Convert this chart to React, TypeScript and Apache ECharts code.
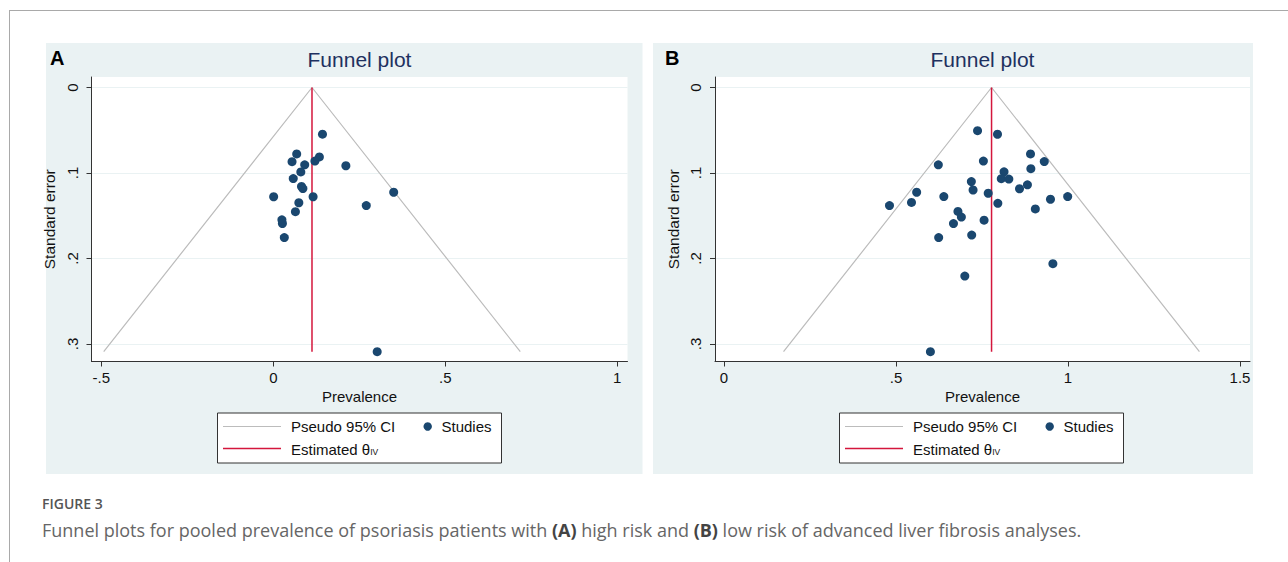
import React, { useEffect, useRef } from "react";
import * as echarts from "echarts";

// ---------- data ----------
const studiesA: [number, number][] = [
  [0.143, 0.0546], [0.068, 0.0777], [0.134, 0.0812], [0.0545, 0.0868], [0.121, 0.086],
  [0.0913, 0.0904], [0.211, 0.0915], [0.08, 0.0988], [0.058, 0.1065], [0.082, 0.1157],
  [0.086, 0.1182], [0.001, 0.1278], [0.1157, 0.1278], [0.35, 0.1225], [0.0742, 0.1348],
  [0.2703, 0.1381], [0.0643, 0.1452], [0.025, 0.1548], [0.0265, 0.1591], [0.032, 0.1755],
  [0.302, 0.309],
];
const studiesB: [number, number][] = [
  [0.737, 0.0505], [0.795, 0.0547], [0.891, 0.0777], [0.931, 0.0866], [0.754, 0.086],
  [0.623, 0.0904], [0.892, 0.095], [0.814, 0.0986], [0.806, 0.1066], [0.828, 0.1071],
  [0.719, 0.11], [0.882, 0.1138], [0.859, 0.1184], [0.724, 0.1199], [0.56, 0.1225],
  [0.768, 0.1237], [0.639, 0.1276], [0.999, 0.1276], [0.949, 0.1307], [0.545, 0.1344],
  [0.796, 0.1355], [0.481, 0.1381], [0.905, 0.142], [0.68, 0.1449], [0.69, 0.1515],
  [0.756, 0.1552], [0.667, 0.1591], [0.72, 0.1726], [0.624, 0.1755], [0.956, 0.206],
  [0.7, 0.2206], [0.6, 0.309],
];
// pseudo 95% CI funnel vertices (left bottom, apex, right bottom)
const funnelA: [number, number][] = [[-0.493, 0.309], [0.1125, 0], [0.718, 0.309]];
const funnelB: [number, number][] = [[0.173, 0.309], [0.7777, 0], [1.382, 0.309]];
// estimated theta (IV) line
const thetaA: [number, number][] = [[0.1125, 0], [0.1125, 0.309]];
const thetaB: [number, number][] = [[0.7777, 0], [0.7777, 0.309]];

const xTicksA = [-0.5, 0, 0.5, 1];
const xTicksB = [0, 0.5, 1, 1.5];
const yTicks = [0, 0.1, 0.2, 0.3];

const panelLetters = ["A", "B"];
const titleText = "Funnel plot";
const xName = "Prevalence";
const yName = "Standard error";
const legendNames = ["Pseudo 95% CI", "Studies", "Estimated θ"];
const captionHead = "FIGURE 3";

// ---------- style ----------
const FONT = "'Liberation Sans', Arial, Helvetica, sans-serif";
const CAPFONT = "'Open Sans', sans-serif";
const BG = "#eaf2f3";
const NAVY = "#1a476f";
const RED = "#d4163c";
const GRAYLINE = "#bcbcbc";
const AXIS = "#333333";

const fmt = (v: number) => {
  if (Math.abs(v) < 1e-9) return "0";
  const s = String(Math.round(v * 1000) / 1000);
  return s.replace(/^(-?)0\./, "$1.");
};

function App() {
  const ref = useRef<HTMLDivElement>(null);
  useEffect(() => {
    if (!ref.current) return;
    const chart = echarts.init(ref.current, null, { renderer: "svg" });

    const grids = [
      { left: 91.5, top: 77, width: 536, height: 284.5, show: true, backgroundColor: "#ffffff", borderWidth: 0 },
      { left: 715, top: 77, width: 535, height: 284.5, show: true, backgroundColor: "#ffffff", borderWidth: 0 },
    ];
    const xRanges = [
      { min: -0.5285, max: 1.0297, ticks: xTicksA },
      { min: -0.0262, max: 1.529, ticks: xTicksB },
    ];
    const xAxes = xRanges.map((r, i) => ({
      type: "value",
      gridIndex: i,
      min: r.min,
      max: r.max,
      name: xName,
      nameLocation: "middle",
      nameGap: 25,
      nameTextStyle: { fontFamily: FONT, fontSize: 15, color: "#111" },
      axisLine: { show: true, onZero: false, lineStyle: { color: AXIS, width: 1 } },
      axisTick: { show: true, length: 5, lineStyle: { color: AXIS }, customValues: r.ticks },
      axisLabel: { fontFamily: FONT, fontSize: 15, color: "#111", margin: 8, customValues: r.ticks, formatter: fmt },
      splitLine: { show: false },
    }));
    const yAxes = [0, 1].map((i) => ({
      type: "value",
      gridIndex: i,
      inverse: true,
      min: -0.01228,
      max: 0.32047,
      name: yName,
      nameLocation: "middle",
      nameGap: 34,
      nameTextStyle: { fontFamily: FONT, fontSize: 15.5, color: "#111" },
      axisLine: { show: true, onZero: false, lineStyle: { color: AXIS, width: 1 } },
      axisTick: { show: true, length: 5, lineStyle: { color: AXIS }, customValues: yTicks },
      axisLabel: { fontFamily: FONT, fontSize: 15, color: "#111", margin: 12, rotate: 90, customValues: yTicks, formatter: fmt },
      splitLine: { show: true, lineStyle: { color: BG, width: 1.2 } },
    }));

    const series: any[] = [];
    [
      { f: funnelA, t: thetaA, s: studiesA },
      { f: funnelB, t: thetaB, s: studiesB },
    ].forEach((p, i) => {
      series.push({
        name: legendNames[0], type: "line", xAxisIndex: i, yAxisIndex: i, data: p.f,
        symbol: "none", lineStyle: { color: GRAYLINE, width: 1.2 }, z: 2,
      });
      series.push({
        name: legendNames[2], type: "line", xAxisIndex: i, yAxisIndex: i, data: p.t,
        symbol: "none", lineStyle: { color: RED, width: 1.5 }, z: 3,
      });
      series.push({
        name: legendNames[1], type: "scatter", xAxisIndex: i, yAxisIndex: i, data: p.s,
        symbol: "circle", symbolSize: 9, itemStyle: { color: NAVY, opacity: 1 }, z: 4,
      });
    });

    const legendGraphic = (dx: number) => ({
      type: "group",
      x: dx,
      y: 0,
      z: 100,
      children: [
        { type: "rect", shape: { x: 217.5, y: 413, width: 284, height: 50 }, style: { fill: "#ffffff", stroke: "#333", lineWidth: 1 } },
        { type: "line", shape: { x1: 223, y1: 426.5, x2: 281, y2: 426.5 }, style: { stroke: GRAYLINE, lineWidth: 1.2 } },
        { type: "text", x: 291, y: 426.5, style: { text: legendNames[0], fontFamily: FONT, fontSize: 15, fill: "#111", verticalAlign: "middle" } },
        { type: "circle", shape: { cx: 427.7, cy: 426.5, r: 4.2 }, style: { fill: NAVY } },
        { type: "text", x: 441.5, y: 426.5, style: { text: legendNames[1], fontFamily: FONT, fontSize: 15, fill: "#111", verticalAlign: "middle" } },
        { type: "line", shape: { x1: 223, y1: 448.5, x2: 281, y2: 448.5 }, style: { stroke: RED, lineWidth: 1.5 } },
        {
          type: "text", x: 291, y: 449,
          style: {
            text: "{m|" + legendNames[2] + "}{s|IV}",
            verticalAlign: "middle",
            rich: {
              m: { fontFamily: FONT, fontSize: 15, fill: "#111", color: "#111", lineHeight: 15 },
              s: { fontFamily: FONT, fontSize: 8.5, fill: "#111", color: "#111", lineHeight: 8, verticalAlign: "bottom" },
            },
          },
        },
      ],
    });

    const option: any = {
      animation: false,
      backgroundColor: "#ffffff",
      title: [
        { text: titleText, left: 359.5, top: 49, textAlign: "center", padding: 0, textStyle: { fontFamily: FONT, fontSize: 21, fontWeight: "normal", color: "#1e3160" } },
        { text: titleText, left: 982.5, top: 49, textAlign: "center", padding: 0, textStyle: { fontFamily: FONT, fontSize: 21, fontWeight: "normal", color: "#1e3160" } },
      ],
      grid: grids,
      xAxis: xAxes,
      yAxis: yAxes,
      series,
      graphic: [
        { type: "line", z: -100, shape: { x1: 10, y1: 10.5, x2: 1288, y2: 10.5 }, style: { stroke: "#a9a9a9", lineWidth: 1 } },
        { type: "line", z: -100, shape: { x1: 9.5, y1: 10, x2: 9.5, y2: 562 }, style: { stroke: "#a9a9a9", lineWidth: 1 } },
        { type: "rect", z: -100, shape: { x: 46, y: 43, width: 596.5, height: 431 }, style: { fill: BG } },
        { type: "rect", z: -100, shape: { x: 653, y: 43, width: 600, height: 431 }, style: { fill: BG } },
        { type: "text", x: 50, y: 57.5, style: { text: panelLetters[0], fontFamily: FONT, fontSize: 20, fontWeight: "bold", fill: "#000", verticalAlign: "middle" } },
        { type: "text", x: 665, y: 57.5, style: { text: panelLetters[1], fontFamily: FONT, fontSize: 20, fontWeight: "bold", fill: "#000", verticalAlign: "middle" } },
        legendGraphic(0),
        legendGraphic(622),
        { type: "text", x: 42, y: 503, style: { text: captionHead, fontFamily: CAPFONT, fontSize: 14, fontWeight: 600, fill: "#555", verticalAlign: "middle" } },
        {
          type: "text", x: 42, y: 530,
          style: {
            text: "{n|Funnel plots for pooled prevalence of psoriasis patients with }{b|(A)}{n| high risk and }{b|(B)}{n| low risk of advanced liver fibrosis analyses.}",
            verticalAlign: "middle",
            rich: {
              n: { fontFamily: CAPFONT, fontSize: 18, color: "#666", fill: "#666" },
              b: { fontFamily: CAPFONT, fontSize: 18, fontWeight: "bold", color: "#444", fill: "#444" },
            },
          },
        },
      ],
    };
    chart.setOption(option);
    return () => chart.dispose();
  }, []);
  return <div ref={ref} style={{ position: "absolute", left: 0, top: 0, width: 1288, height: 562 }} />;
}

export default App;
